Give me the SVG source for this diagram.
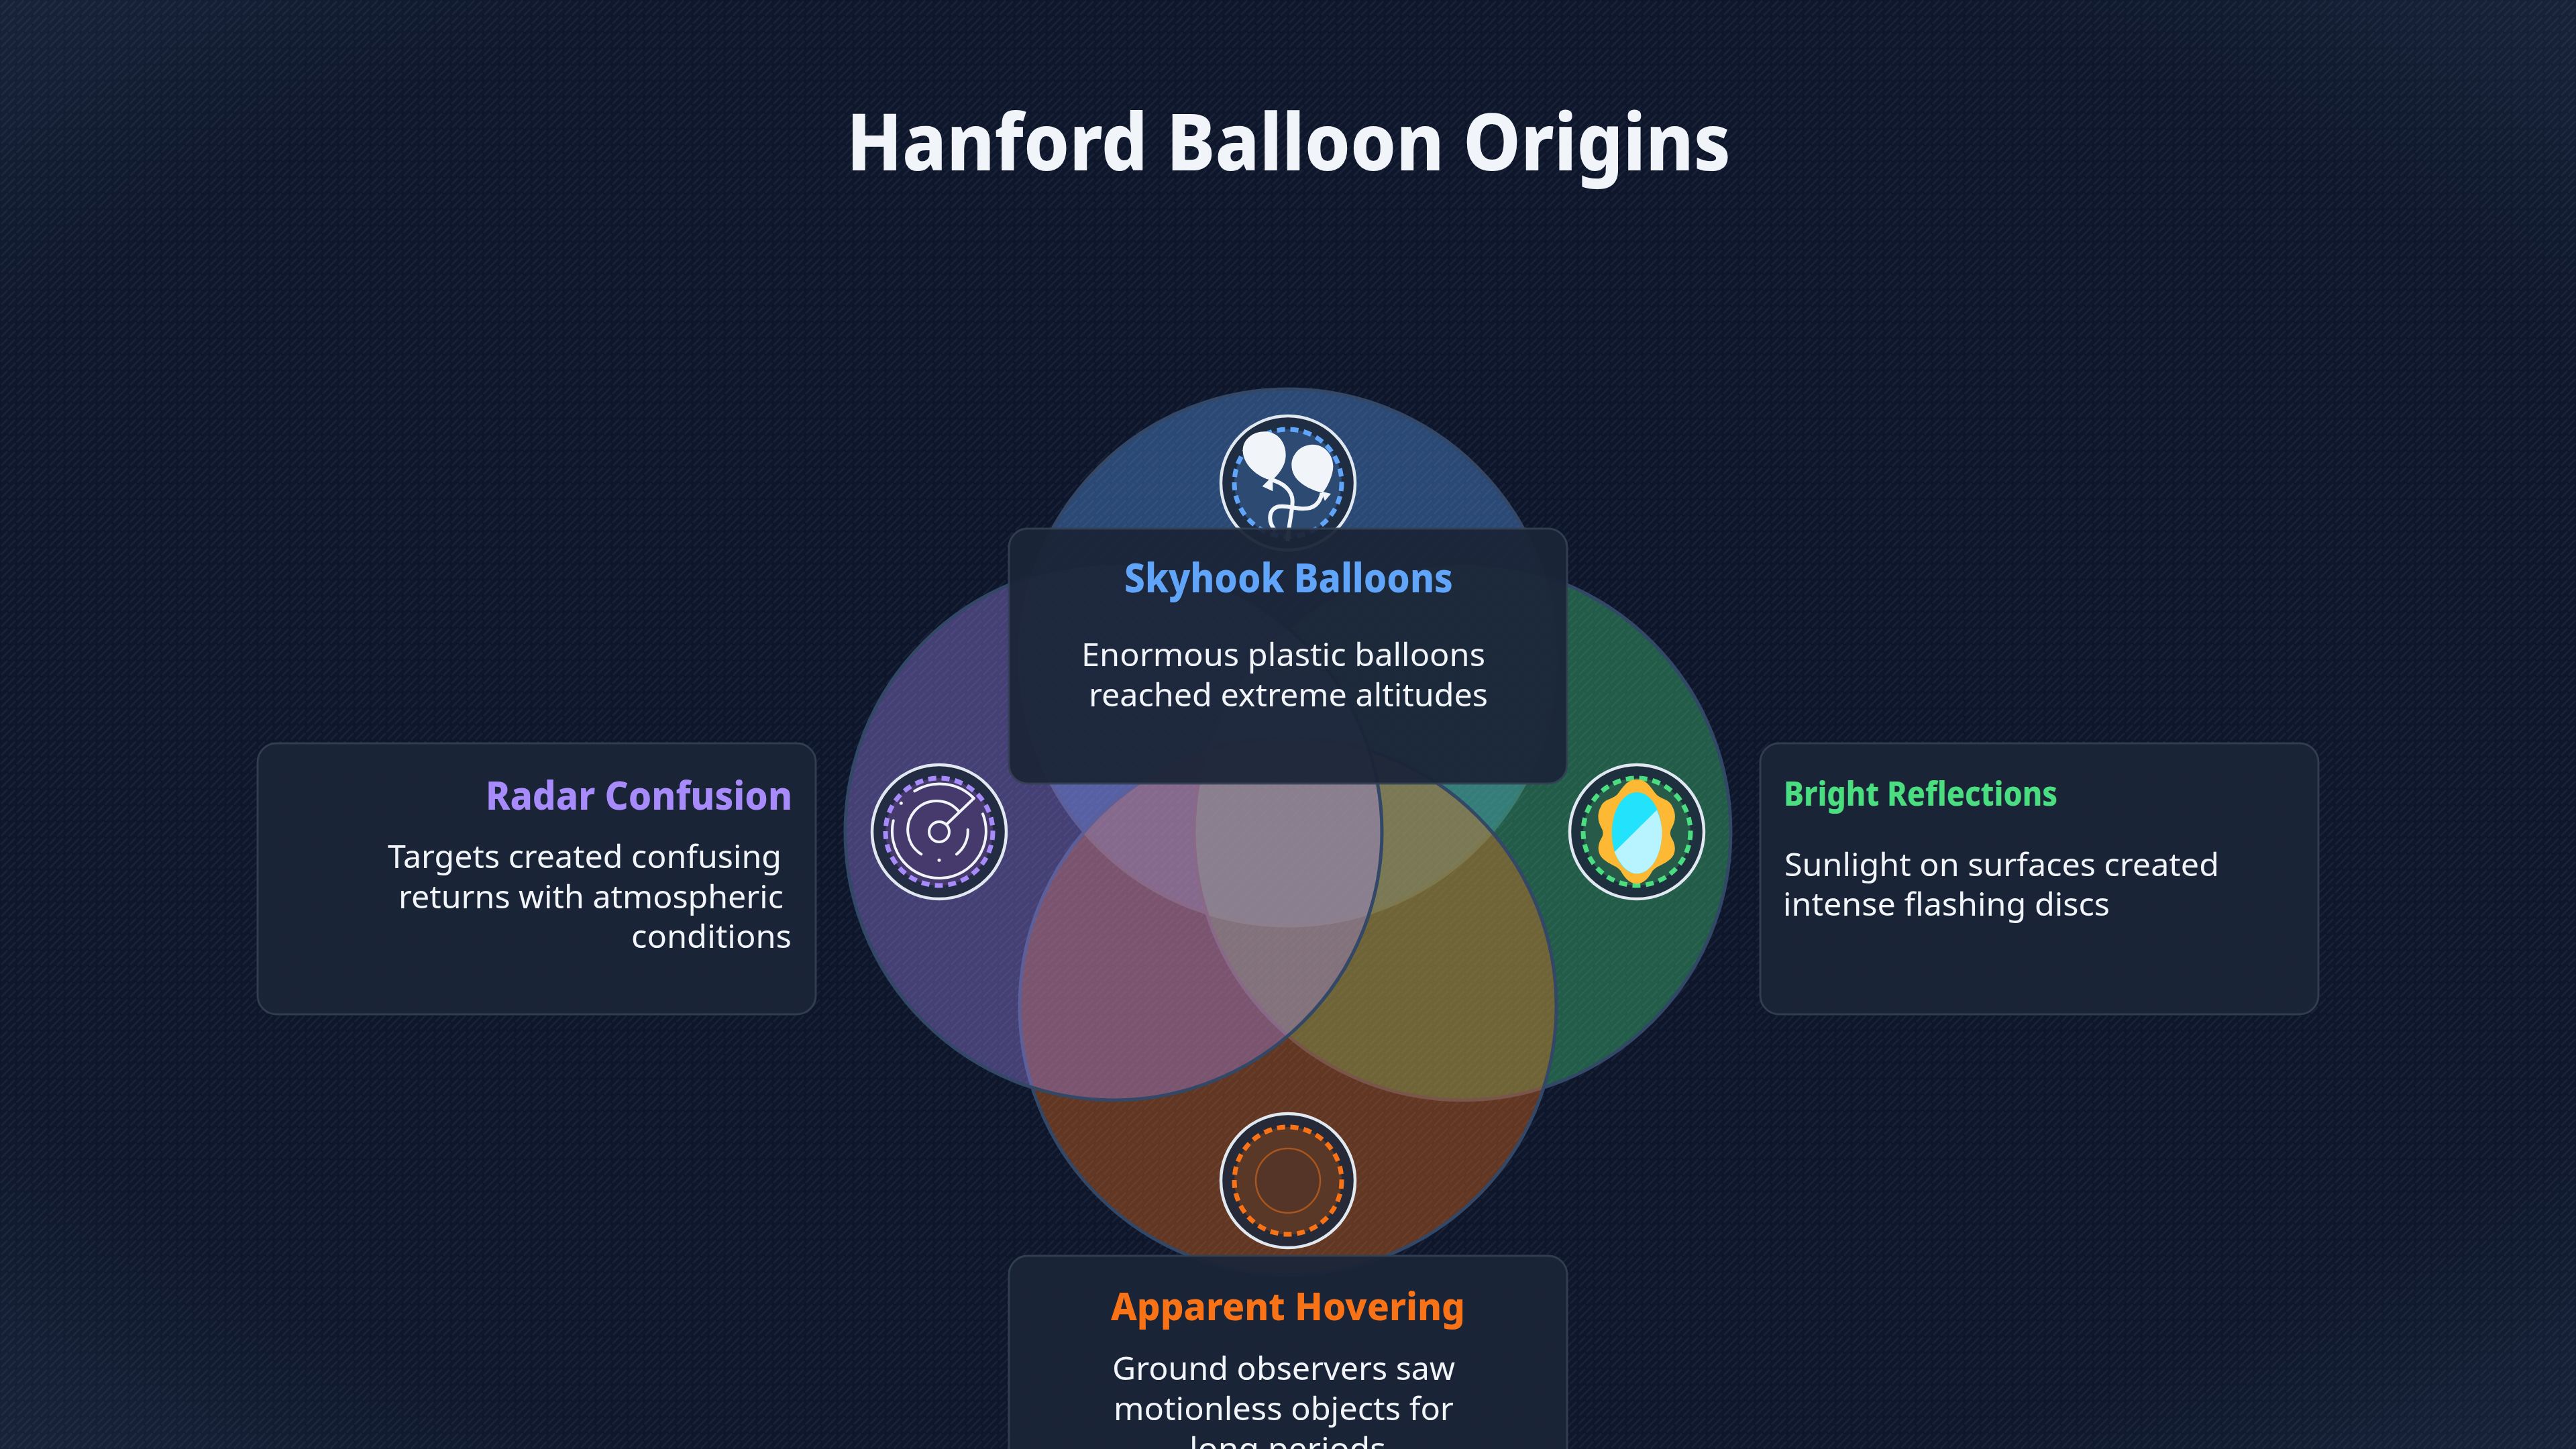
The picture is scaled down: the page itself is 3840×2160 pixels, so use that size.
<svg xmlns="http://www.w3.org/2000/svg" width="3840" height="2160" viewBox="0 0 3840 2160">
<style>
text{font-family:"Noto Sans","Open Sans","Liberation Sans",sans-serif}
.title{font-size:118px;font-weight:800;fill:#f1f5f9}
.h{font-size:59px;font-weight:800}
.b{font-size:48px;font-weight:400;fill:#f1f5f9}
.card{fill:#1b2538;fill-opacity:.95;stroke:#334155;stroke-opacity:.9;stroke-width:3}
.venn{fill-opacity:.355;stroke:#334766;stroke-width:5}
.ring{fill:#1e293b;fill-opacity:.88;stroke:#e2e8f0;stroke-width:4.5}
.dash{stroke-width:7;stroke-dasharray:12 8}
.w{fill:none;stroke:#f1f5f9;stroke-width:4;stroke-linecap:round}
</style>
<defs>
<radialGradient id="bg" cx="50%" cy="50%" r="70.7%">
<stop offset="0" stop-color="#0d152a"/><stop offset=".78" stop-color="#0e172b"/><stop offset="1" stop-color="#18233a"/>
</radialGradient>
<pattern id="hatch" width="24" height="24" patternUnits="userSpaceOnUse">
<path d="M1 11L11 1M2 22L22 2M13 23L23 13" fill="none" stroke="#94a3b8" stroke-opacity=".08" stroke-width="2.6"/>
</pattern>
</defs>
<rect id="background" width="3840" height="2160" fill="url(#bg)"/>
<rect id="texture" width="3840" height="2160" fill="url(#hatch)"/>
<text id="title" class="title" x="1262" y="254" textLength="1318" lengthAdjust="spacingAndGlyphs">Hanford Balloon Origins</text>
<g id="connectors"/>
<g id="venn-circles">
<circle id="circle-top" class="venn" cx="1920" cy="980" r="400" fill="#60a5fa"/>
<circle id="circle-right" class="venn" cx="2180" cy="1240" r="400" fill="#4ade80"/>
<circle id="circle-bottom" class="venn" cx="1920" cy="1500" r="400" fill="#f97316"/>
<circle id="circle-left" class="venn" cx="1660" cy="1240" r="400" fill="#a78bfa"/>
</g>
<g id="icon-balloons">
<circle class="ring" cx="1920" cy="720" r="100"/>
<circle cx="1920" cy="720" r="80" fill="#2c4a72"/>
<circle class="dash" cx="1920" cy="720" r="80" fill="none" stroke="#60a5fa"/>
<g transform="translate(1780 600) scale(.33333)">
<path fill="#f1f5f9" d="M315 130C375 130 412 180 410 240C408 285 378 320 352 345L352 397L305 375L335 345C270 325 218 270 218 215C218 165 262 130 315 130Z"/>
<path fill="#f1f5f9" d="M530 188C585 188 622 235 622 285C622 325 598 375 578 400L612 408L585 440L570 403C500 385 436 345 436 280C436 230 478 188 530 188Z"/>
<path fill="none" stroke="#f1f5f9" stroke-width="18" d="M345 345C400 360 440 395 440 440C440 490 425 530 418 620"/>
<path fill="none" stroke="#f1f5f9" stroke-width="18" d="M572 405C565 440 545 475 490 475C450 475 420 460 380 465C335 472 325 530 365 575"/>
</g>
</g>
<g id="icon-radar">
<circle class="ring" cx="1400" cy="1240" r="100"/>
<circle cx="1400" cy="1240" r="80" fill="#463a6c"/>
<circle class="dash" cx="1400" cy="1240" r="80" fill="none" stroke="#a78bfa"/>
<g transform="translate(1400 1240)">
<path class="w" d="M-68.300-16.700A70 70 0 1 0 65-26.700"/>
<path class="w" d="M-36.700-60.700A71 71 0 0 1 51.700-50"/>
<path class="w" d="M-26.700 33.300A43 43 0 1 1 28.300-31.700"/>
<path class="w" d="M26 33.300A43 43 0 0 0 42.700-3.300"/>
<circle class="w" r="15"/>
<path class="w" d="M11.700-11.700L51.700-50"/>
<circle cx="-56.700" cy="-42.700" r="2.500" fill="#f1f5f9"/>
<circle cx="0" cy="42.300" r="2.500" fill="#f1f5f9"/>
</g>
</g>
<g id="icon-mirror">
<circle class="ring" cx="2440" cy="1240" r="100"/>
<circle cx="2440" cy="1240" r="80" fill="#285a4a"/>
<circle class="dash" cx="2440" cy="1240" r="80" fill="none" stroke="#4ade80"/>
<g transform="translate(2300 1120) scale(.33333)">
<path fill="#fdb933" d="M420 125C465 125 485 165 505 190C525 215 560 210 578 245C600 285 590 320 575 345C565 365 570 380 580 395C600 435 590 470 560 490C530 512 510 512 490 535C470 570 450 592 420 592C390 592 368 570 348 535C330 512 310 512 280 490C250 470 238 435 258 395C268 380 273 365 263 345C248 320 238 285 260 245C278 210 315 215 335 190C355 165 375 125 420 125Z"/>
<ellipse cx="420" cy="365" rx="112" ry="182" fill="#22e3fb"/>
<path fill="#b8f4ff" d="M510 262C525 300 532 330 532 365C532 465 482 547 420 547C380 547 345 510 320 450Z"/>
</g>
</g>
<g id="icon-hover">
<circle class="ring" cx="1920" cy="1760" r="100"/>
<circle cx="1920" cy="1760" r="80" fill="#5a3828"/>
<circle class="dash" cx="1920" cy="1760" r="80" fill="none" stroke="#f97316"/>
<circle cx="1920" cy="1760" r="48" fill="#553527" stroke="#f97316" stroke-opacity=".5" stroke-width="2.500"/>
</g>
<g id="card-top">
<rect class="card" x="1504" y="788" width="832" height="380" rx="28"/>
<text class="h" style="font-size:60px" fill="#60a5fa" x="1676" y="883" textLength="490" lengthAdjust="spacingAndGlyphs">Skyhook Balloons</text>
<text class="b" x="1612" y="993" textLength="602" lengthAdjust="spacingAndGlyphs">Enormous plastic balloons</text>
<text class="b" x="1623" y="1053" textLength="595" lengthAdjust="spacingAndGlyphs">reached extreme altitudes</text>
</g>
<g id="card-left">
<rect class="card" x="384" y="1108" width="832" height="404" rx="28"/>
<text class="h" fill="#a78bfa" x="724" y="1207" textLength="457" lengthAdjust="spacingAndGlyphs">Radar Confusion</text>
<text class="b" x="578" y="1294" textLength="587" lengthAdjust="spacingAndGlyphs">Targets created confusing</text>
<text class="b" x="594" y="1354" textLength="574" lengthAdjust="spacingAndGlyphs">returns with atmospheric</text>
<text class="b" x="941" y="1413" textLength="239" lengthAdjust="spacingAndGlyphs">conditions</text>
</g>
<g id="card-right">
<rect class="card" x="2624" y="1108" width="832" height="404" rx="28"/>
<text class="h" style="font-size:50px" fill="#4ade80" x="2659" y="1201" textLength="408" lengthAdjust="spacingAndGlyphs">Bright Reflections</text>
<text class="b" x="2660" y="1306" textLength="648" lengthAdjust="spacingAndGlyphs">Sunlight on surfaces created</text>
<text class="b" x="2658" y="1365" textLength="487" lengthAdjust="spacingAndGlyphs">intense flashing discs</text>
</g>
<g id="card-bottom">
<rect class="card" x="1504" y="1872" width="832" height="404" rx="28"/>
<text class="h" style="font-size:57px" fill="#f97316" x="1656" y="1968" textLength="528" lengthAdjust="spacingAndGlyphs">Apparent Hovering</text>
<text class="b" x="1658" y="2057" textLength="511" lengthAdjust="spacingAndGlyphs">Ground observers saw</text>
<text class="b" x="1660" y="2117" textLength="507" lengthAdjust="spacingAndGlyphs">motionless objects for</text>
<text class="b" x="1773" y="2177" textLength="293" lengthAdjust="spacingAndGlyphs">long periods</text>
</g>
</svg>
